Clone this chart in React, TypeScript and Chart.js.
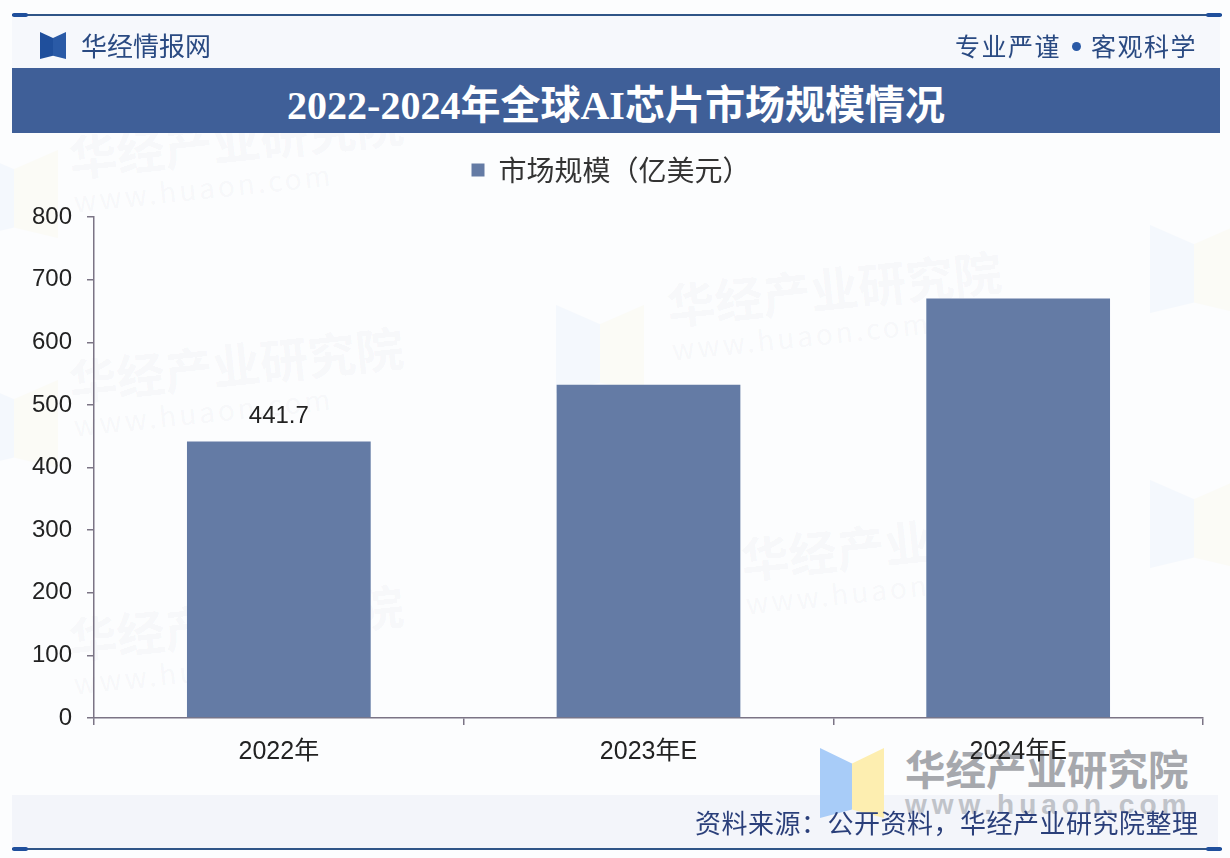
import { useEffect, useRef } from "react";
import { Chart, registerables } from "chart.js";

Chart.register(...registerables);

const categories = ["2022年", "2023年E", "2024年E"];
const marketSize = [441.7, 532, 670];
const shownLabels = ["441.7", "", ""];
const yMax = 800;
const yStep = 100;
const seriesName = "市场规模（亿美元）";

const sansFont = '"Liberation Sans", "Noto Sans CJK SC", sans-serif';
const cjkFont = '"Noto Sans CJK SC", sans-serif';

// faint background watermarks: [left, top]
const watermarks = [
  [66, 128],
  [664, 276],
  [66, 352],
  [738, 530],
  [66, 610],
];
// faint logos behind the plot: [left, top]
const watermarkLogos = [
  [556, 305],
  [1150, 225],
  [1150, 480],
  [-30, 150],
  [-30, 380],
];

const barLabels = {
  id: "barLabels",
  afterDatasetsDraw(chart: Chart) {
    const { ctx } = chart;
    const meta = chart.getDatasetMeta(0);
    ctx.save();
    ctx.font = "24px " + sansFont;
    ctx.fillStyle = "#222222";
    ctx.textAlign = "center";
    ctx.textBaseline = "middle";
    meta.data.forEach((bar, i) => {
      if (shownLabels[i]) ctx.fillText(shownLabels[i], bar.x, bar.y - 25);
    });
    ctx.restore();
  },
};

// extra room under the legend
const legendGap = {
  id: "legendGap",
  beforeInit(chart: any) {
    const fit = chart.legend.fit;
    chart.legend.fit = function () {
      fit.bind(chart.legend)();
      this.height += 23;
    };
  },
};

function Logo({ x, y, w, h, left, right }: { x: number; y: number; w: number; h: number; left: string; right: string }) {
  return (
    <>
      <div style={{ position: "absolute", left: x, top: y, width: w / 2, height: h, background: left, clipPath: "polygon(0 0, 100% 22%, 100% 88%, 0 100%)" }} />
      <div style={{ position: "absolute", left: x + w / 2, top: y, width: w / 2, height: h, background: right, clipPath: "polygon(100% 0, 0 22%, 0 88%, 100% 100%)" }} />
    </>
  );
}

export default function App() {
  const canvasRef = useRef<HTMLCanvasElement | null>(null);

  useEffect(() => {
    const ctx = canvasRef.current?.getContext("2d");
    if (!ctx) return;
    const chart = new Chart(ctx, {
      type: "bar",
      data: {
        labels: categories,
        datasets: [
          {
            label: seriesName,
            data: marketSize,
            backgroundColor: "#647ba5",
            barPercentage: 0.497,
            categoryPercentage: 1,
          },
        ],
      },
      options: {
        responsive: false,
        animation: false,
        layout: { padding: { top: 128, left: 19, right: 27, bottom: 0 } },
        plugins: {
          tooltip: { enabled: false },
          legend: {
            position: "top",
            labels: {
              boxWidth: 13,
              boxHeight: 13,
              padding: 28,
              color: "#333333",
              font: { family: cjkFont, size: 28 },
            },
          },
        },
        scales: {
          x: {
            afterFit: (scale: any) => {
              scale.height = 140;
            },
            border: { color: "#7b7485", width: 1.5 },
            grid: { drawOnChartArea: false, tickLength: 7, color: "#7b7485", lineWidth: 1.5 },
            ticks: { color: "#222222", padding: 12, font: { family: sansFont, size: 25 } },
          },
          y: {
            min: 0,
            max: yMax,
            afterFit: (scale: any) => {
              scale.width = 75;
            },
            border: { color: "#7b7485", width: 1.5 },
            grid: { drawOnChartArea: false, tickLength: 7, color: "#7b7485", lineWidth: 1.5 },
            ticks: { stepSize: yStep, color: "#222222", padding: 15, font: { family: sansFont, size: 24 } },
          },
        },
      },
      plugins: [barLabels, legendGap],
    });
    return () => chart.destroy();
  }, []);

  return (
    <div style={{ position: "fixed", left: 0, top: 0, width: 1230, height: 858, overflow: "hidden", background: "#fcfdfe", fontFamily: cjkFont }}>
      {/* header and footer bands */}
      <div style={{ position: "absolute", left: 12, top: 15, width: 1208, height: 53, background: "#f6f8fc" }} />
      <div style={{ position: "absolute", left: 12, top: 795, width: 1206, height: 54, background: "#f3f5fa" }} />

      {watermarkLogos.map(([x, y], i) => (
        <div key={i} style={{ opacity: 0.06 }}>
          <Logo x={x} y={y} w={88} h={88} left="#7fb0ee" right="#f8df80" />
        </div>
      ))}
      {watermarks.map(([left, top], i) => (
        <div key={i} style={{ position: "absolute", left, top, transform: "rotate(-6deg)", transformOrigin: "left top", color: "rgba(95,115,155,0.055)", whiteSpace: "nowrap" }}>
          <div style={{ fontSize: 48, fontWeight: 700, lineHeight: "56px" }}>华经产业研究院</div>
          <div style={{ fontSize: 28, lineHeight: "34px", letterSpacing: 3 }}>www.huaon.com</div>
        </div>
      ))}

      {/* bottom right logo */}
      <Logo x={820} y={748} w={64} h={70} left="#a8ccf8" right="#fdeeb0" />
      <div style={{ position: "absolute", left: 905, top: 740, fontSize: 40.5, fontWeight: 700, lineHeight: "56px", color: "#a6a8ad", whiteSpace: "nowrap" }}>华经产业研究院</div>
      <div style={{ position: "absolute", left: 905, top: 789, fontFamily: sansFont, fontSize: 28, fontWeight: 700, letterSpacing: 5, lineHeight: "32px", color: "#c0c3c9", whiteSpace: "nowrap" }}>www.huaon.com</div>

      <canvas ref={canvasRef} width={1230} height={858} style={{ position: "absolute", left: 0, top: 0, display: "block" }} />

      {/* top and bottom rules */}
      <div style={{ position: "absolute", left: 12, top: 14, width: 1210, height: 2, background: "#2f5587" }} />
      <div style={{ position: "absolute", left: 12, top: 13, width: 16, height: 4, borderRadius: 2, background: "#1f4f9c" }} />
      <div style={{ position: "absolute", left: 1206, top: 13, width: 16, height: 4, borderRadius: 2, background: "#1f4f9c" }} />
      <div style={{ position: "absolute", left: 12, top: 848, width: 1210, height: 2, background: "#2f5587" }} />
      <div style={{ position: "absolute", left: 12, top: 847, width: 16, height: 4, borderRadius: 2, background: "#1f4f9c" }} />
      <div style={{ position: "absolute", left: 1206, top: 847, width: 16, height: 4, borderRadius: 2, background: "#1f4f9c" }} />

      <Logo x={40} y={32} w={26} h={27} left="#1f4f9c" right="#2a5aa6" />
      <div style={{ position: "absolute", left: 81, top: 27, fontSize: 26, lineHeight: "36px", color: "#2a4a82", whiteSpace: "nowrap" }}>华经情报网</div>
      <div style={{ position: "absolute", left: 955, top: 27, fontSize: 25, lineHeight: "36px", letterSpacing: 1.5, color: "#2a4a82", whiteSpace: "nowrap" }}>专业严谨</div>
      <div style={{ position: "absolute", left: 1072, top: 42, width: 9, height: 9, borderRadius: "50%", background: "#2a5aa6" }} />
      <div style={{ position: "absolute", left: 1091, top: 27, fontSize: 25, lineHeight: "36px", letterSpacing: 1.5, color: "#2a4a82", whiteSpace: "nowrap" }}>客观科学</div>

      {/* title */}
      <div style={{ position: "absolute", left: 12, top: 68, width: 1208, height: 65, background: "#3f5f98", color: "#ffffff", textAlign: "center", fontFamily: '"Liberation Serif", "Noto Sans CJK SC", serif', fontWeight: 700, fontSize: 40, lineHeight: "76px", whiteSpace: "nowrap" }}>
        2022-2024年全球AI芯片市场规模情况
      </div>

      <div style={{ position: "absolute", left: 695, top: 804, fontSize: 26, lineHeight: "36px", color: "#2a3f7a", letterSpacing: 0.5, whiteSpace: "nowrap" }}>资料来源：公开资料，华经产业研究院整理</div>
    </div>
  );
}
